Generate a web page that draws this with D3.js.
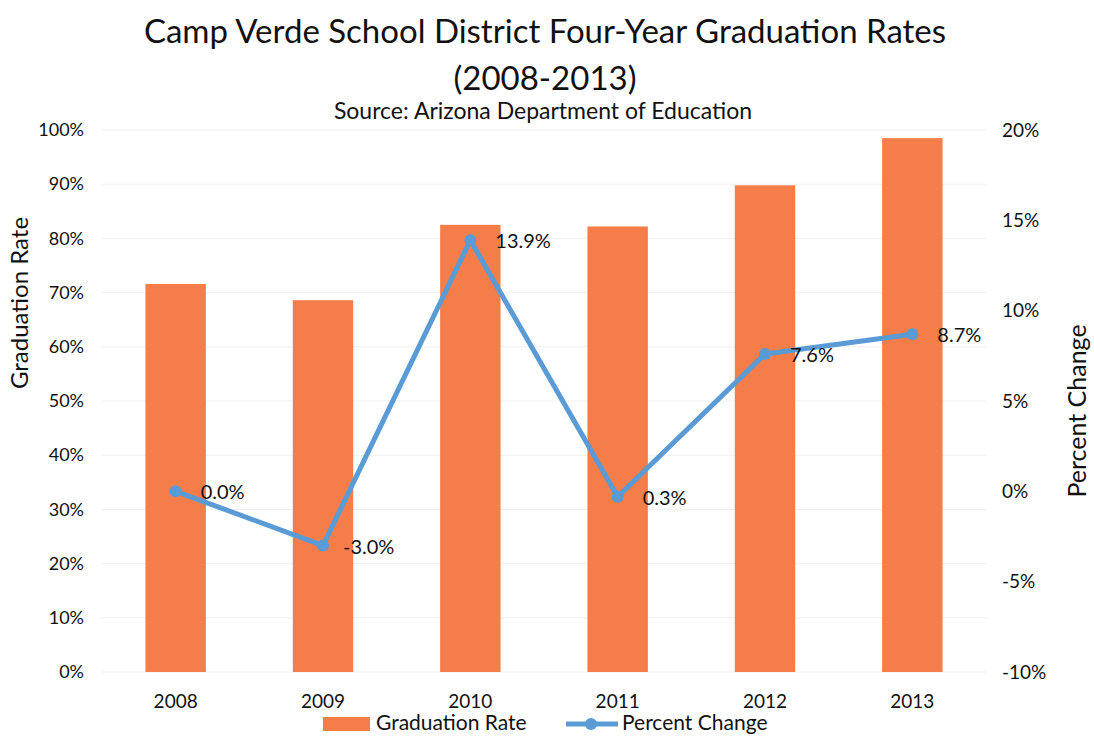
<!DOCTYPE html>
<html>
<head>
<meta charset="utf-8">
<script src="https://cdn.jsdelivr.net/npm/d3@7"></script>
<style>
  html, body { margin: 0; padding: 0; background: #fff; }
  svg text { font-family: Lato, "Open Sans", sans-serif; fill: #111; }
</style>
</head>
<body>
<svg id="chart" width="1094" height="738"></svg>
<script>
// ---- data ----
const years = ["2008", "2009", "2010", "2011", "2012", "2013"];
const graduationRate = [71.6, 68.6, 82.5, 82.2, 89.8, 98.5];
const percentChange = [0.0, -3.0, 13.9, -0.3, 7.6, 8.7];
const changeLabels = ["0.0%", "-3.0%", "13.9%", "0.3%", "7.6%", "8.7%"];
const leftTicks = [0, 10, 20, 30, 40, 50, 60, 70, 80, 90, 100];
const rightTicks = [-10, -5, 0, 5, 10, 15, 20];

const svg = d3.select("#chart");
const W = 1094, H = 738;
const margin = { left: 102, right: 108, top: 130, bottom: 66 };
const plotRight = W - margin.right, plotBottom = H - margin.bottom;

const barColor = "#F57D4A";
const lineColor = "#5B9BD5";

const x = d3.scaleBand().domain(years).range([margin.left, plotRight])
  .paddingInner(0.59).paddingOuter(0.295);
const yL = d3.scaleLinear().domain([0, 100]).range([plotBottom, margin.top]);
const yR = d3.scaleLinear().domain([-10, 20]).range([plotBottom, margin.top]);

// gridlines
svg.append("g").selectAll("line").data(leftTicks).join("line")
  .attr("x1", margin.left).attr("x2", plotRight)
  .attr("y1", d => yL(d)).attr("y2", d => yL(d))
  .attr("stroke", "#f0f0f0").attr("stroke-width", 1);

// left axis
const axL = d3.axisLeft(yL).tickValues(leftTicks).tickFormat(d => d + "%").tickSize(0).tickPadding(0);
const gL = svg.append("g").attr("transform", `translate(${margin.left - 18},0)`).call(axL);
gL.select(".domain").remove();
gL.selectAll("text").style("font-size", "18px").style("font-family", "Lato, sans-serif").attr("fill", "#111");

// right axis
const axR = d3.axisRight(yR).tickValues(rightTicks).tickFormat(d => d + "%").tickSize(0).tickPadding(0);
const gR = svg.append("g").attr("transform", `translate(${plotRight + 16},0)`).call(axR);
gR.select(".domain").remove();
gR.selectAll("text").style("font-size", "19px").style("font-family", "Lato, sans-serif").attr("fill", "#111");

// bottom axis
const axB = d3.axisBottom(x).tickSize(0).tickPadding(0);
const gB = svg.append("g").attr("transform", `translate(0,${plotBottom + 22})`).call(axB);
gB.select(".domain").remove();
gB.selectAll("text").style("font-size", "19px").style("font-family", "Lato, sans-serif").attr("fill", "#111");

// bars
svg.append("g").selectAll("rect").data(years).join("rect")
  .attr("x", d => x(d)).attr("width", x.bandwidth())
  .attr("y", (d, i) => yL(graduationRate[i]))
  .attr("height", (d, i) => yL(0) - yL(graduationRate[i]))
  .attr("fill", barColor);

// line
const cx = d => x(d) + x.bandwidth() / 2;
const line = d3.line().x((d, i) => cx(years[i])).y(d => yR(d));
svg.append("path").datum(percentChange)
  .attr("d", line).attr("fill", "none")
  .attr("stroke", lineColor).attr("stroke-width", 5).attr("stroke-linejoin", "round");
svg.append("g").selectAll("circle").data(percentChange).join("circle")
  .attr("cx", (d, i) => cx(years[i])).attr("cy", d => yR(d))
  .attr("r", 6).attr("fill", lineColor);

// data labels
svg.append("g").selectAll("text").data(percentChange).join("text")
  .attr("x", (d, i) => cx(years[i]) + (changeLabels[i][0] === "-" ? 20 : 25)).attr("y", d => yR(d) + 3)
  .attr("dominant-baseline", "middle")
  .style("font-size", "20px").attr("fill", "#222")
  .text((d, i) => changeLabels[i]);

// titles
svg.append("text").attr("x", 545).attr("y", 43).attr("text-anchor", "middle")
  .style("font-size", "33px").text("Camp Verde School District Four-Year Graduation Rates");
svg.append("text").attr("x", 545).attr("y", 90).attr("text-anchor", "middle")
  .style("font-size", "33px").text("(2008-2013)");
svg.append("text").attr("x", 543).attr("y", 119).attr("text-anchor", "middle")
  .style("font-size", "23px").text("Source: Arizona Department of Education");

// axis titles
svg.append("text").attr("transform", "translate(28,303) rotate(-90)")
  .attr("text-anchor", "middle").style("font-size", "24px").text("Graduation Rate");
svg.append("text").attr("transform", "translate(1086,411) rotate(-90)")
  .attr("text-anchor", "middle").style("font-size", "25px").text("Percent Change");

// legend
const lg = svg.append("g");
lg.append("rect").attr("x", 323).attr("y", 717).attr("width", 47).attr("height", 14).attr("fill", barColor);
lg.append("text").attr("x", 376).attr("y", 725).attr("dominant-baseline", "middle")
  .style("font-size", "21px").text("Graduation Rate");
lg.append("line").attr("x1", 566).attr("x2", 618).attr("y1", 724).attr("y2", 724)
  .attr("stroke", lineColor).attr("stroke-width", 5);
lg.append("circle").attr("cx", 591).attr("cy", 724).attr("r", 6).attr("fill", lineColor);
lg.append("text").attr("x", 622).attr("y", 725).attr("dominant-baseline", "middle")
  .style("font-size", "21px").text("Percent Change");
</script>
</body>
</html>
